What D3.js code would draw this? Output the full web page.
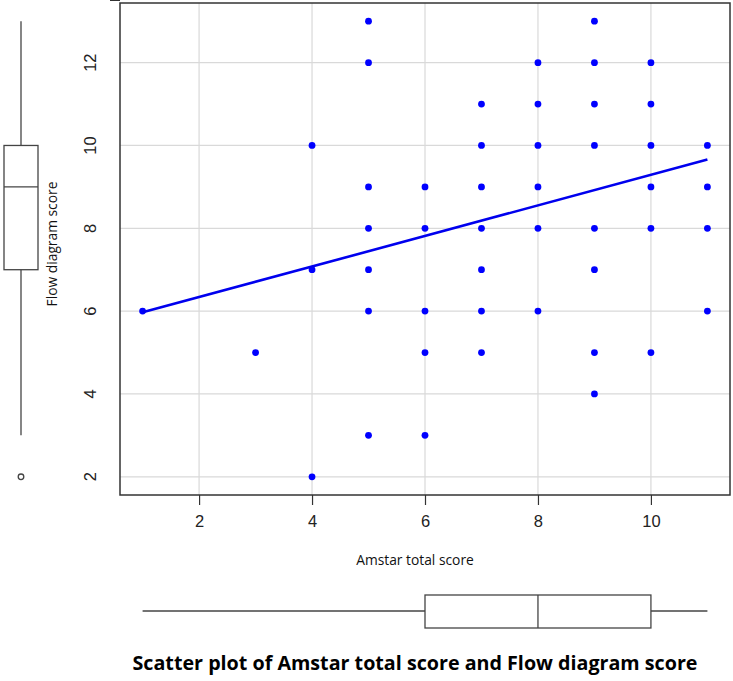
<!DOCTYPE html>
<html lang="en">
<head>
<meta charset="UTF-8">
<title>Amstar vs Flow diagram score</title>
<script src="https://d3js.org/d3.v7.min.js"></script>
<style>
  body { margin: 0; background: #fff; }
  .tick text { font-family: "Liberation Sans", Arial, sans-serif; font-size: 16.5px; fill: #222; }
  .lbl { font-family: "Open Sans", sans-serif; font-size: 13.8px; fill: #111; }
  .title { font-family: "Open Sans", sans-serif; font-weight: bold; font-size: 19.7px; fill: #000; }
</style>
</head>
<body>
<div id="chart"></div>
<script>
// Amstar total score (x) and Flow diagram score (y), one entry per study
var amstarScores = [1, 3, 4, 4, 4, 5, 5, 5, 5, 5, 5, 5, 6, 6, 6, 6, 6,
    7, 7, 7, 7, 7, 7, 7, 8, 8, 8, 8, 8, 8, 9, 9, 9, 9, 9, 9, 9, 9,
    10, 10, 10, 10, 10, 10, 11, 11, 11, 11];
var flowScores = [6, 5, 10, 7, 2, 13, 12, 9, 8, 7, 6, 3, 9, 8, 6, 5, 3,
    11, 10, 9, 8, 7, 6, 5, 12, 11, 10, 9, 8, 6, 13, 12, 11, 10, 8, 7, 5, 4,
    12, 11, 10, 9, 8, 5, 10, 9, 8, 6];

// fitted line end points
var fitX = [1, 11];
var fitY = [5.97, 9.66];

// boxplot summaries: lower whisker, Q1, median, Q3, upper whisker
var flowBox = [3, 7, 9, 10, 13];
var flowOutliers = [2];
var amstarBox = [1, 6, 8, 10, 11];

var xTicks = [2, 4, 6, 8, 10];
var yTicks = [2, 4, 6, 8, 10, 12];

var w = 733, h = 681;

var x = d3.scaleLinear().domain([0.6, 11.4]).range([120, 730]);
var y = d3.scaleLinear().domain([1.56, 13.44]).range([495, 3]);

var svg = d3.select("#chart").append("svg")
    .attr("width", w)
    .attr("height", h);

// grid
svg.append("g").selectAll("line.gx")
    .data(xTicks).enter().append("line")
    .attr("x1", d => x(d)).attr("x2", d => x(d))
    .attr("y1", y.range()[0]).attr("y2", y.range()[1])
    .attr("stroke", "#d9d9d9").attr("stroke-width", 1.2);
svg.append("g").selectAll("line.gy")
    .data(yTicks).enter().append("line")
    .attr("x1", x.range()[0]).attr("x2", x.range()[1])
    .attr("y1", d => y(d)).attr("y2", d => y(d))
    .attr("stroke", "#d9d9d9").attr("stroke-width", 1.2);

// axes
var xAxis = svg.append("g")
    .attr("transform", "translate(0,495)")
    .call(d3.axisBottom(x).tickValues(xTicks).tickSize(10).tickPadding(10).tickSizeOuter(0));
var yAxis = svg.append("g")
    .attr("transform", "translate(120,0)")
    .call(d3.axisLeft(y).tickValues(yTicks).tickSize(10).tickPadding(6).tickSizeOuter(0));
xAxis.select(".domain").remove();
yAxis.select(".domain").remove();
svg.selectAll(".tick line").attr("stroke", "#333").attr("stroke-width", 1.2);
yAxis.selectAll(".tick text")
    .attr("transform", function(d) { return "rotate(-90," + (-30) + "," + y(d) + ")"; })
    .attr("x", -30).attr("y", d => y(d)).attr("dy", "0.35em")
    .attr("text-anchor", "middle")
    .each(function() { d3.select(this.parentNode).attr("transform", null); });

// frame
svg.append("rect")
    .attr("x", 120).attr("y", 3)
    .attr("width", 610).attr("height", 492)
    .attr("fill", "none").attr("stroke", "#333").attr("stroke-width", 1.5);

// points
svg.append("g").selectAll("circle")
    .data(amstarScores).enter().append("circle")
    .attr("cx", d => x(d))
    .attr("cy", (d, i) => y(flowScores[i]))
    .attr("r", 3.4)
    .attr("fill", "#0000ff");

// fit line
svg.append("line")
    .attr("x1", x(fitX[0])).attr("y1", y(fitY[0]))
    .attr("x2", x(fitX[1])).attr("y2", y(fitY[1]))
    .attr("stroke", "#0000ee").attr("stroke-width", 2.6);

// left boxplot (flow diagram score)
var bl = svg.append("g").attr("stroke", "#444").attr("stroke-width", 1.3).attr("fill", "none");
bl.append("line").attr("x1", 21).attr("x2", 21).attr("y1", y(flowBox[0])).attr("y2", y(flowBox[1]));
bl.append("line").attr("x1", 21).attr("x2", 21).attr("y1", y(flowBox[3])).attr("y2", y(flowBox[4]));
bl.append("rect").attr("x", 4).attr("width", 34)
    .attr("y", y(flowBox[3])).attr("height", y(flowBox[1]) - y(flowBox[3]));
bl.append("line").attr("x1", 4).attr("x2", 38).attr("y1", y(flowBox[2])).attr("y2", y(flowBox[2]));
bl.selectAll("circle").data(flowOutliers).enter().append("circle")
    .attr("cx", 21).attr("cy", d => y(d)).attr("r", 2.8);

// bottom boxplot (amstar total score)
var bb = svg.append("g").attr("stroke", "#444").attr("stroke-width", 1.3).attr("fill", "none");
bb.append("line").attr("y1", 611).attr("y2", 611).attr("x1", x(amstarBox[0])).attr("x2", x(amstarBox[1]));
bb.append("line").attr("y1", 611).attr("y2", 611).attr("x1", x(amstarBox[3])).attr("x2", x(amstarBox[4]));
bb.append("rect").attr("y", 595).attr("height", 33)
    .attr("x", x(amstarBox[1])).attr("width", x(amstarBox[3]) - x(amstarBox[1]));
bb.append("line").attr("y1", 595).attr("y2", 628).attr("x1", x(amstarBox[2])).attr("x2", x(amstarBox[2]));

// labels
svg.append("text").attr("class", "lbl")
    .attr("x", 415).attr("y", 565).attr("text-anchor", "middle")
    .text("Amstar total score");
svg.append("text").attr("class", "lbl")
    .attr("transform", "translate(57,244) rotate(-90)")
    .attr("text-anchor", "middle")
    .text("Flow diagram score");
svg.append("text").attr("class", "title")
    .attr("x", 415).attr("y", 670).attr("text-anchor", "middle")
    .text("Scatter plot of Amstar total score and Flow diagram score");
</script>
</body>
</html>
